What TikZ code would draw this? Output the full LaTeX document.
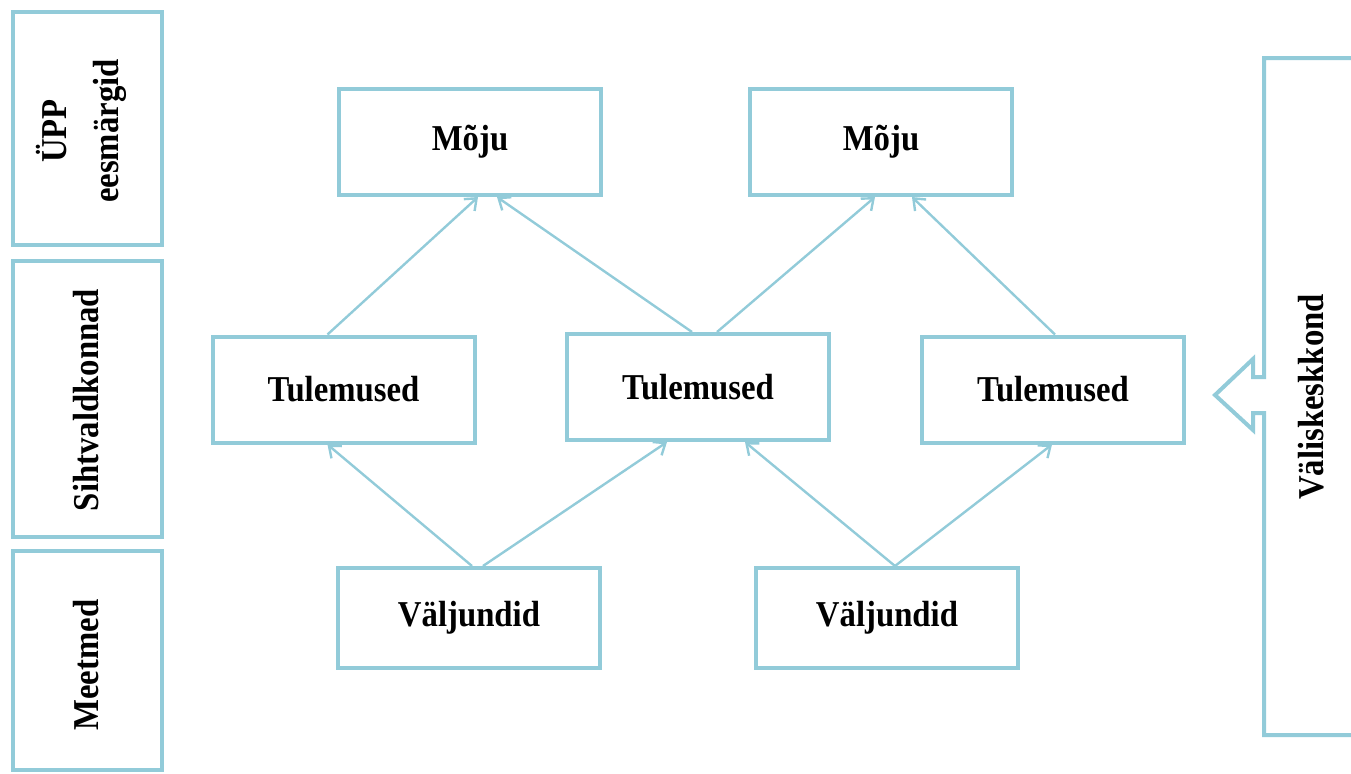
\documentclass[tikz,border=0pt]{standalone}
\usepackage{fontspec}
\setmainfont{Liberation Serif}[FakeStretch=0.9]
\usepackage{tikz}
\usetikzlibrary{arrows.meta,calc}
\definecolor{lightaqua}{RGB}{146,203,217}

\begin{document}
\begin{tikzpicture}[x=0.5pt, y=-0.5pt, every node/.style={font=\bfseries\fontsize{18.2}{26}\selectfont},
    box/.style={draw=lightaqua, line width=2pt, fill=white, minimum width=131pt, minimum height=53pt, inner sep=0pt},
    side/.style={draw=lightaqua, line width=2pt, fill=white, minimum width=74.5pt, inner sep=0pt},
    link/.style={draw=lightaqua, line width=1.2pt, -{Straight Barb[length=5pt,width=8pt,line width=1.2pt]}}]
      \useasboundingbox (0,0) rectangle (1351,773);

      % left column
      \node at (87.5,128.5) [side, minimum height=116.5pt] (eesm) {};
      \node at (87.5,399) [side, minimum height=138pt] (siht) {};
      \node at (87.5,660.5) [side, minimum height=109.5pt] (meet) {};
      \node at (81.5,131) [rotate=90, align=center] (eesm_txt) {ÜPP\\eesmärgid};
      \node at (86,400) [rotate=90] (siht_txt) {Sihtvaldkonnad};
      \node at (86,665) [rotate=90] (meet_txt) {Meetmed};

      % right box with block arrow
      \draw[draw=lightaqua, line width=2pt, line join=miter]
        (1400,58) -- (1264,58) -- (1264,377) -- (1253,377) -- (1253,359) -- (1215,395)
        -- (1253,430) -- (1253,413) -- (1264,413) -- (1264,735) -- (1400,735);
      \node at (1311,397) [rotate=90] (valis_txt) {Väliskeskkond};

      \node at (470,142) [box] (moju1) {Mõju};
      \node at (881,142) [box] (moju2) {Mõju};

      \node at (343.5,389.5) [box] (tul1) {Tulemused};
      \node at (698,387) [box] (tul2) {Tulemused};
      \node at (1053,389.5) [box] (tul3) {Tulemused};

      \node at (469,618) [box, minimum height=50pt] (val1) {Väljundid};
      \node at (887,618) [box, minimum height=50pt] (val2) {Väljundid};

      \draw[link] ([xshift=-8pt]tul1.north) -- ([xshift=4pt]moju1.south);
      \draw[link] ([xshift=-3pt]tul2.north) -- ([xshift=13.5pt]moju1.south);
      \draw[link] ([xshift=9.5pt]tul2.north) -- ([xshift=-3pt]moju2.south);
      \draw[link] ([xshift=1pt]tul3.north) -- ([xshift=15.5pt]moju2.south);

      \draw[link] ([xshift=1.5pt]val1.north) -- ([xshift=-8pt]tul1.south);
      \draw[link] ([xshift=7pt]val1.north) -- ([xshift=-15.5pt]tul2.south);
      \draw[link] ([xshift=4pt]val2.north) -- ([xshift=23.5pt]tul2.south);
      \draw[link] ([xshift=4pt]val2.north) -- ([xshift=-0.5pt]tul3.south);
    \end{tikzpicture}
\end{document}
